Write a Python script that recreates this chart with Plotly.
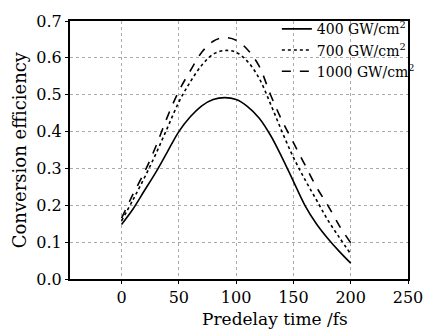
import plotly.graph_objects as go

delay = [0, 10, 20, 30, 40, 50, 60, 70, 80, 90, 100, 110, 120, 130, 140, 150, 160, 170, 180, 190, 200]
eff_400 = [0.148, 0.19, 0.24, 0.29, 0.345, 0.40, 0.44, 0.47, 0.487, 0.492, 0.487, 0.468, 0.437, 0.39, 0.33, 0.265, 0.20, 0.15, 0.11, 0.075, 0.043]
eff_700 = [0.158, 0.215, 0.275, 0.34, 0.41, 0.48, 0.535, 0.58, 0.61, 0.62, 0.615, 0.59, 0.545, 0.475, 0.40, 0.33, 0.27, 0.215, 0.16, 0.113, 0.068]
eff_1000 = [0.165, 0.23, 0.29, 0.36, 0.44, 0.51, 0.565, 0.615, 0.645, 0.655, 0.648, 0.622, 0.578, 0.50, 0.43, 0.37, 0.31, 0.25, 0.20, 0.145, 0.098]
names = ["400 GW/cm<sup>2</sup>", "700 GW/cm<sup>2</sup>", "1000 GW/cm<sup>2</sup>"]
x_ticks = [0, 50, 100, 150, 200, 250]
y_ticks = [0.0, 0.1, 0.2, 0.3, 0.4, 0.5, 0.6, 0.7]
x_title = "Predelay time /fs"
y_title = "Conversion efficiency"

font = "DejaVu Serif"
fig = go.Figure()
for ys, nm, dash in [(eff_400, names[0], "solid"), (eff_700, names[1], "dot"), (eff_1000, names[2], "dash")]:
    fig.add_trace(go.Scatter(x=delay, y=ys, mode="lines", name=nm,
                             line=dict(color="black", width=1.6, dash=dash, shape="spline")))

axis_common = dict(showline=True, linecolor="black", linewidth=2, mirror=True,
                   ticks="outside", ticklen=3, tickcolor="black",
                   showgrid=True, gridcolor="#aaaaaa", griddash="dot", gridwidth=1,
                   zeroline=False, tickfont=dict(family=font, size=16, color="black"))
fig.update_xaxes(range=[-45, 250], tickvals=x_ticks, ticktext=[str(v) for v in x_ticks],
                 **axis_common)
fig.update_yaxes(range=[0, 0.7], tickvals=y_ticks, ticktext=[f"{v:.1f}" for v in y_ticks],
                 **axis_common)
fig.add_annotation(text=x_title, xref="paper", yref="paper", x=0.606, y=-0.155,
                   xanchor="center", yanchor="middle", showarrow=False,
                   font=dict(family=font, size=17, color="black"))
fig.add_annotation(text=y_title, xref="paper", yref="paper", x=-0.15, y=0.5, textangle=-90,
                   xanchor="center", yanchor="middle", showarrow=False,
                   font=dict(family=font, size=18, color="black"))
fig.update_layout(width=435, height=331, margin=dict(l=70, r=17, t=15, b=52),
                  font=dict(family=font, color="black"),
                  plot_bgcolor="white", paper_bgcolor="white",
                  legend=dict(x=0.612, y=1.03, xanchor="left", yanchor="top",
                              bgcolor="rgba(0,0,0,0)", font=dict(family=font, size=14, color="black"),
                              tracegroupgap=0, itemwidth=30))
fig.write_html("out.html", config={"displayModeBar": False},
               post_script="document.body.style.margin='0';")
